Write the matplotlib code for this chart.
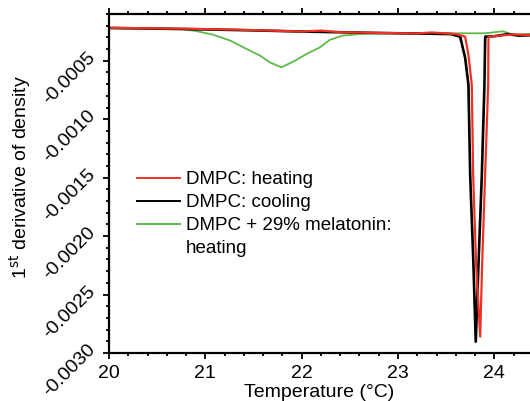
import matplotlib
matplotlib.use('Agg')
import matplotlib.pyplot as plt
from matplotlib.ticker import MultipleLocator, FormatStrFormatter
from matplotlib.lines import Line2D

plt.rcParams['font.family'] = ['Liberation Sans', 'DejaVu Sans']
plt.rcParams['axes.unicode_minus'] = False

# --- datos ---
t_cool = [20.0, 20.5, 21.0, 21.5, 22.0, 22.5, 23.0, 23.3, 23.55, 23.645, 23.697,
          23.731, 23.749, 23.783, 23.807, 23.835, 23.870, 23.897, 23.905, 24.0,
          24.14, 24.25, 24.37]
d_cool = [-0.000220, -0.000225, -0.000232, -0.000240, -0.000250, -0.000258,
          -0.000265, -0.000268, -0.000272, -0.000294, -0.000476, -0.000707,
          -0.001477, -0.002247, -0.002903, -0.002247, -0.001477, -0.000707,
          -0.000294, -0.000290, -0.000272, -0.000285, -0.000282]

t_heat = [20.0, 20.4, 20.8, 21.2, 21.6, 22.0, 22.2, 22.4, 22.8, 23.2, 23.35, 23.6,
          23.697, 23.731, 23.766, 23.780, 23.811, 23.853, 23.873, 23.904, 23.936,
          23.939, 24.05, 24.2, 24.37]
d_heat = [-0.000218, -0.000222, -0.000226, -0.000232, -0.000240, -0.000250,
          -0.000242, -0.000256, -0.000262, -0.000266, -0.000258, -0.000272,
          -0.000294, -0.000451, -0.000707, -0.001477, -0.002247, -0.002860,
          -0.002247, -0.001477, -0.000707, -0.000294, -0.000285, -0.000275,
          -0.000280]

t_mel = [20.0, 20.4, 20.74, 20.9, 21.08, 21.26, 21.43, 21.57, 21.67, 21.79, 21.93,
         22.05, 22.19, 22.29, 22.42, 22.6, 23.0, 23.5, 23.9, 24.09, 24.19, 24.37]
d_mel = [-0.000220, -0.000223, -0.000228, -0.000245, -0.000277, -0.000328,
         -0.000400, -0.000457, -0.000514, -0.000556, -0.000500, -0.000442,
         -0.000385, -0.000322, -0.000285, -0.000272, -0.000262, -0.000265,
         -0.000265, -0.000248, -0.000277, -0.000270]

labels = ['DMPC: heating', 'DMPC: cooling', 'DMPC + 29% melatonin:', 'heating']
colors = ['#ee3124', '#000000', '#5cba47']
fs = 14

fig = plt.figure(figsize=(5.30, 4.01), dpi=100)
ax = fig.add_axes([109 / 530, 48 / 401, 421 / 530, 339 / 401])

ax.plot(t_mel, d_mel, color=colors[2], lw=1.3)
ax.plot(t_cool, d_cool, color=colors[1], lw=1.9)
ax.plot(t_heat, d_heat, color=colors[0], lw=1.6)

ax.set_xlim(20, 24.37)
ax.set_ylim(-0.0030, -0.0001)

ax.xaxis.set_major_locator(MultipleLocator(1))
ax.xaxis.set_minor_locator(MultipleLocator(0.2))
ax.yaxis.set_major_locator(MultipleLocator(0.0005))
ax.yaxis.set_minor_locator(MultipleLocator(0.0001))
ax.yaxis.set_major_formatter(FormatStrFormatter('%.4f'))

ax.spines['right'].set_visible(False)
for s in ['left', 'top', 'bottom']:
    ax.spines[s].set_linewidth(1.6)

ax.tick_params(which='both', direction='out', top=True, right=False,
               width=1.3, labelsize=fs, labeltop=False)
ax.tick_params(which='major', length=4)
ax.tick_params(which='minor', length=2.5)
ax.tick_params(axis='x', pad=5)
ax.tick_params(axis='y', pad=3)
plt.setp(ax.get_yticklabels(), rotation=45, rotation_mode='anchor',
         ha='right', va='bottom')

ax.set_xlabel('Temperature (\u00b0C)', fontsize=fs)
ax.set_ylabel('1$^{\\rm st}$ derivative of density', fontsize=fs)
ax.yaxis.set_label_coords(-0.18, 0.52)
ax.xaxis.set_label_coords(0.5, -0.09)

handles = [Line2D([], [], color=colors[0], lw=1.4),
           Line2D([], [], color=colors[1], lw=1.4),
           Line2D([], [], color=colors[2], lw=1.4),
           Line2D([], [], color='none')]
ax.legend(handles, labels, loc='upper left', bbox_to_anchor=(0.066, 0.537),
          frameon=False, fontsize=13.5, handlelength=2.3, handletextpad=0.3,
          borderpad=0, borderaxespad=0, labelspacing=0.32)

plt.savefig('out.png', dpi=100)
plt.close()
